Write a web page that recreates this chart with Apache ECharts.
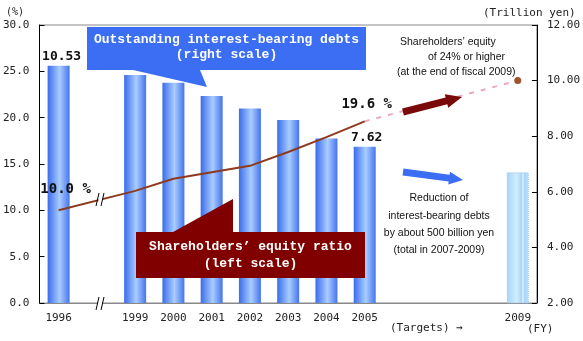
<!DOCTYPE html>
<html>
<head>
<meta charset="utf-8">
<script src="https://cdn.jsdelivr.net/npm/echarts@6/dist/echarts.min.js"></script>
<style>
  html, body { margin: 0; padding: 0; background: #fff; }
  #chart { width: 583px; height: 341px; }
</style>
</head>
<body>
<div id="chart"></div>
<script>
// Fiscal years on the category axis (blank slots: axis break and target gap)
const categories = ['1996', '', '1999', '2000', '2001', '2002', '2003', '2004', '2005', '', '', '', '2009'];
// Outstanding interest-bearing debts, trillion yen (right scale)
const debtTrillionYen = [10.53, null, 10.20, 9.92, 9.45, 9.00, 8.58, 7.92, 7.62, null, null, null, 6.70];
// Shareholders' equity ratio, % (left scale)
const equityRatioPct = [10.0, null, 12.1, 13.4, 14.1, 14.8, 16.3, 17.9, 19.6, null, null, null, null];
// Equity ratio target path, 2005 actual -> fiscal 2009 target
const equityTargetPct = [null, null, null, null, null, null, null, null, 19.6, null, null, null, 24.0];
// Axis scales
const leftScale = { min: 0, max: 30, interval: 5 };
const rightScale = { min: 2, max: 12, interval: 2 };

const MONO = '"DejaVu Sans Mono", monospace';
const CALLOUT = 'bold 13px "Liberation Mono", monospace';
const NOTE = '10.5px "Liberation Sans", Arial, sans-serif';

const chart = echarts.init(document.getElementById('chart'), null, { renderer: 'canvas' });

const barGradient = new echarts.graphic.LinearGradient(0, 0, 1, 0, [
  { offset: 0, color: '#3A6CEA' },
  { offset: 0.55, color: '#A9CDFF' },
  { offset: 1, color: '#4574EE' }
]);
const targetBarGradient = new echarts.graphic.LinearGradient(0, 0, 1, 0, [
  { offset: 0, color: '#A6D4FA' },
  { offset: 0.45, color: '#D2EDFF' },
  { offset: 0.68, color: '#A8D6FA' },
  { offset: 0.74, color: '#E6F6FF' },
  { offset: 0.8, color: '#A8D6FA' },
  { offset: 1, color: '#BFE3FF' }
]);

const valueLabelFont = { fontFamily: MONO, fontWeight: 'bold', fontSize: 13, color: '#111' };

const barData = debtTrillionYen.map((v, i) => {
  if (v === null) return null;
  const item = { value: v };
  if (i === categories.length - 1) {
    item.itemStyle = { color: targetBarGradient, borderColor: '#9CC2E6', borderWidth: 1, borderType: 'dotted' };
  }
  if (i === 0 || i === 8) {
    item.label = Object.assign({ show: true, position: 'top', distance: 3,
      formatter: p => p.value.toFixed(2), offset: [i === 0 ? 3 : 2, 0] }, valueLabelFont);
  }
  return item;
});

const lineData = equityRatioPct.map((v, i) => {
  if (v === null) return null;
  const item = { value: v };
  if (i === 0 || i === 8) {
    item.label = Object.assign({ show: true, position: 'top', distance: 10,
      formatter: p => p.value.toFixed(1) + ' %', offset: i === 0 ? [7, -4] : [2, 0] },
      valueLabelFont, { fontSize: 14 });
  }
  return item;
});

const targetData = equityTargetPct.map((v, i) => {
  if (v === null) return null;
  return i === categories.length - 1 ? { value: v, symbolSize: 7 } : { value: v, symbolSize: 0 };
});

// Block arrow polygon from (x1,y1) to tip (x2,y2)
function arrow(x1, y1, x2, y2, shaftHalf, headLen, headHalf) {
  const dx = x2 - x1, dy = y2 - y1, len = Math.hypot(dx, dy);
  const ux = dx / len, uy = dy / len, nx = -uy, ny = ux;
  const bx = x2 - ux * headLen, by = y2 - uy * headLen;
  return [
    [x1 + nx * shaftHalf, y1 + ny * shaftHalf],
    [bx + nx * shaftHalf, by + ny * shaftHalf],
    [bx + nx * headHalf, by + ny * headHalf],
    [x2, y2],
    [bx - nx * headHalf, by - ny * headHalf],
    [bx - nx * shaftHalf, by - ny * shaftHalf],
    [x1 - nx * shaftHalf, y1 - ny * shaftHalf]
  ];
}

function txt(x, y, text, font, fill, align) {
  return { type: 'text', x, y, z: 120,
    style: { text, font, fill: fill || '#111', align: align || 'center', verticalAlign: 'middle' } };
}

const graphics = [
  // axis break on the category axis
  { type: 'rect', z: 110, shape: { x: 98, y: 300, width: 4, height: 6 }, style: { fill: '#fff' } },
  { type: 'line', z: 111, shape: { x1: 96, y1: 310, x2: 99, y2: 297 }, style: { stroke: '#000', lineWidth: 1 } },
  { type: 'line', z: 111, shape: { x1: 101, y1: 310, x2: 104, y2: 297 }, style: { stroke: '#000', lineWidth: 1 } },
  // axis break on the equity ratio line
  { type: 'rect', z: 110, shape: { x: 98.5, y: 194, width: 4, height: 10 }, style: { fill: '#fff' } },
  { type: 'line', z: 111, shape: { x1: 96, y1: 206, x2: 99, y2: 193 }, style: { stroke: '#000', lineWidth: 1 } },
  { type: 'line', z: 111, shape: { x1: 101, y1: 206, x2: 104, y2: 193 }, style: { stroke: '#000', lineWidth: 1 } },

  // debts callout
  { type: 'polygon', z: 100, shape: { points: [[87, 27], [366, 27], [366, 70], [200, 70], [207, 87], [133, 70], [87, 70]] },
    style: { fill: '#3B6EF2' } },
  txt(226.5, 40, 'Outstanding interest-bearing debts', CALLOUT, '#fff'),
  txt(226.5, 55, '(right scale)', CALLOUT, '#fff'),

  // equity ratio callout
  { type: 'polygon', z: 100, shape: { points: [[136, 232], [173, 232], [233, 199], [233, 232], [365, 232], [365, 278], [136, 278]] },
    style: { fill: '#800000' } },
  txt(250.5, 247, 'Shareholders\u2019 equity ratio', CALLOUT, '#fff'),
  txt(250.5, 264, '(left scale)', CALLOUT, '#fff'),

  // target arrows
  { type: 'polygon', z: 100, shape: { points: arrow(403, 112, 462, 97, 3.5, 16, 7) }, style: { fill: '#7A0A0A' } },
  { type: 'polygon', z: 100, shape: { points: arrow(403, 172, 463, 180, 3.5, 14, 6.5) }, style: { fill: '#3B6EF2' } },

  // target notes
  txt(400, 42, 'Shareholders\u2019 equity', NOTE, '#111', 'left'),
  txt(428, 57, 'of 24% or higher', NOTE, '#111', 'left'),
  txt(397, 72, '(at the end of fiscal 2009)', NOTE, '#111', 'left'),
  txt(439, 198, 'Reduction of', NOTE),
  txt(439, 216, 'interest-bearing debts', NOTE),
  txt(439, 233, 'by about 500 billion yen', NOTE),
  txt(439, 250, '(total in 2007-2009)', NOTE),

  // unit and footer labels
  txt(6, 12, '(%)', '10px ' + MONO, '#222', 'left'),
  txt(483, 13, '(Trillion yen)', '11px ' + MONO, '#222', 'left'),
  txt(390, 328, '(Targets) \u2192', '11px ' + MONO, '#222', 'left'),
  txt(527, 329, '(FY)', '11px ' + MONO, '#222', 'left')
];

const option = {
  backgroundColor: '#fff',
  animation: false,
  grid: { left: 37, right: 46, top: 25, bottom: 38, show: true, borderColor: '#888', borderWidth: 1 },
  xAxis: {
    type: 'category',
    data: categories,
    boundaryGap: true,
    axisLine: { lineStyle: { color: '#888', width: 1 } },
    axisTick: { show: false },
    axisLabel: { interval: 0, margin: 10, fontFamily: MONO, fontSize: 11, color: '#222' }
  },
  yAxis: [
    {
      type: 'value', position: 'left',
      min: leftScale.min, max: leftScale.max, interval: leftScale.interval,
      axisLine: { show: true, lineStyle: { color: '#000', width: 1 } },
      axisTick: { show: true, inside: true, length: 5, lineStyle: { color: '#000' } },
      axisLabel: { margin: 10, fontFamily: MONO, fontSize: 11, color: '#222', formatter: v => v.toFixed(1) },
      splitLine: { show: false }
    },
    {
      type: 'value', position: 'right',
      min: rightScale.min, max: rightScale.max, interval: rightScale.interval,
      axisLine: { show: true, lineStyle: { color: '#000', width: 1 } },
      axisTick: { show: true, inside: true, length: 5, lineStyle: { color: '#000' } },
      axisLabel: { margin: 10, fontFamily: MONO, fontSize: 11, color: '#222', formatter: v => v.toFixed(2) },
      splitLine: { show: false }
    }
  ],
  series: [
    {
      name: 'Outstanding interest-bearing debts',
      type: 'bar',
      yAxisIndex: 1,
      barWidth: 22,
      data: barData,
      itemStyle: { color: barGradient },
      z: 2
    },
    {
      name: "Shareholders' equity ratio",
      type: 'line',
      yAxisIndex: 0,
      data: lineData,
      connectNulls: true,
      symbol: 'circle',
      symbolSize: 0,
      showSymbol: true,
      itemStyle: { color: '#8E3A1E' },
      lineStyle: { color: '#8E3A1E', width: 2 },
      z: 5
    },
    {
      name: 'Equity ratio target',
      type: 'line',
      yAxisIndex: 0,
      data: targetData,
      connectNulls: true,
      symbol: 'circle',
      itemStyle: { color: '#A0522D' },
      lineStyle: { color: '#EBA8BE', width: 2, type: [5, 7] },
      z: 4
    }
  ],
  graphic: graphics
};

chart.setOption(option);
</script>
</body>
</html>
